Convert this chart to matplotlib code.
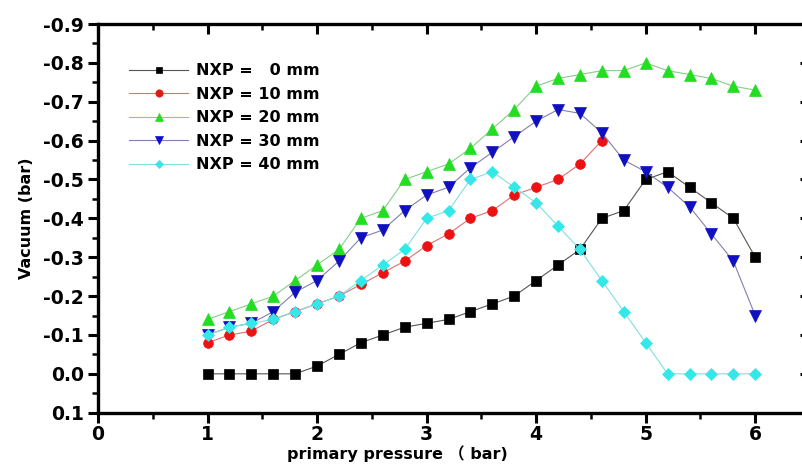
import matplotlib
matplotlib.use("Agg")
import matplotlib.pyplot as plt
from matplotlib.ticker import MultipleLocator

pressure = [1.0, 1.2, 1.4, 1.6, 1.8, 2.0, 2.2, 2.4, 2.6, 2.8, 3.0, 3.2, 3.4,
            3.6, 3.8, 4.0, 4.2, 4.4, 4.6, 4.8, 5.0, 5.2, 5.4, 5.6, 5.8, 6.0]

nxp0 = [0.00, 0.00, 0.00, 0.00, 0.00, -0.02, -0.05, -0.08, -0.10, -0.12, -0.13,
        -0.14, -0.16, -0.18, -0.20, -0.24, -0.28, -0.32, -0.40, -0.42, -0.50,
        -0.52, -0.48, -0.44, -0.40, -0.30]
pressure10 = pressure[:19]
nxp10 = [-0.08, -0.10, -0.11, -0.14, -0.16, -0.18, -0.20, -0.23, -0.26, -0.29,
         -0.33, -0.36, -0.40, -0.42, -0.46, -0.48, -0.50, -0.54, -0.60]
nxp20 = [-0.14, -0.16, -0.18, -0.20, -0.24, -0.28, -0.32, -0.40, -0.42, -0.50,
         -0.52, -0.54, -0.58, -0.63, -0.68, -0.74, -0.76, -0.77, -0.78, -0.78,
         -0.80, -0.78, -0.77, -0.76, -0.74, -0.73]
nxp30 = [-0.10, -0.12, -0.13, -0.16, -0.21, -0.24, -0.29, -0.35, -0.37, -0.42,
         -0.46, -0.48, -0.53, -0.57, -0.61, -0.65, -0.68, -0.67, -0.62, -0.55,
         -0.52, -0.48, -0.43, -0.36, -0.29, -0.15]
nxp40 = [-0.10, -0.12, -0.13, -0.14, -0.16, -0.18, -0.20, -0.24, -0.28, -0.32,
         -0.40, -0.42, -0.50, -0.52, -0.48, -0.44, -0.38, -0.32, -0.24, -0.16,
         -0.08, 0.00, 0.00, 0.00, 0.00, 0.00]

labels = ["NXP =   0 mm", "NXP = 10 mm", "NXP = 20 mm", "NXP = 30 mm", "NXP = 40 mm"]
xlabel = "primary pressure （ bar)"
ylabel = "Vacuum (bar)"
xticks = [0, 1, 2, 3, 4, 5, 6]
yticks = [-0.9, -0.8, -0.7, -0.6, -0.5, -0.4, -0.3, -0.2, -0.1, 0.0, 0.1]

WIDE = ['DejaVu Sans', 'Noto Sans CJK SC']
plt.rcParams['font.family'] = WIDE
plt.rcParams['font.weight'] = 'bold'

fig = plt.figure(figsize=(8.03, 4.66), dpi=100)
W, H = 803, 466
x0, x1 = 98, 810
ytop, ybot = 24, 412.7
ax = fig.add_axes([x0 / W, (H - ybot) / H, (x1 - x0) / W, (ybot - ytop) / H])

series = [
    (pressure, nxp0, 's', '#000000', '#555555', 6.5),
    (pressure10, nxp10, 'o', '#ee1111', '#e07070', 7),
    (pressure, nxp20, '^', '#22dd22', '#88cc88', 8),
    (pressure, nxp30, 'v', '#1010c0', '#8080b0', 8),
    (pressure, nxp40, 'D', '#33e8e8', '#80e0e0', 6),
]
for (xs, ys, m, c, lc, ms), lab in zip(series, labels):
    ax.plot(xs, ys, color=lc, lw=0.8, marker=m, markersize=ms,
            markerfacecolor=c, markeredgecolor=c, markeredgewidth=0.5, label=lab)

ax.set_xlim(0, 6.5)
ax.set_ylim(0.1, -0.9)

ax.xaxis.set_minor_locator(MultipleLocator(0.5))
ax.yaxis.set_minor_locator(MultipleLocator(0.05))
ax.set_xticks(xticks)
ax.set_xticklabels([str(v) for v in xticks])
ax.set_yticks(yticks)
ax.set_yticklabels([f"{v:.1f}" for v in yticks])

for s in ax.spines.values():
    s.set_linewidth(2.4)
    s.set_color('black')

ax.tick_params(axis='both', which='major', direction='out', length=7, width=2.2,
               labelsize=13.5, pad=2)
ax.tick_params(axis='y', which='major', pad=3)
ax.tick_params(axis='both', which='minor', direction='out', length=4, width=1.8)
ax.tick_params(top=True, right=True, which='both')
# top and right ticks point inward
for t in ax.xaxis.get_major_ticks() + ax.xaxis.get_minor_ticks():
    t.tick2line.set_marker(3)
for t in ax.yaxis.get_major_ticks() + ax.yaxis.get_minor_ticks():
    t.tick2line.set_marker(0)
for lab in ax.get_xticklabels() + ax.get_yticklabels():
    lab.set_fontweight('bold')

ax.set_xlabel(xlabel, fontsize=11.5, fontweight='bold')
ax.xaxis.set_label_coords((397 - x0) / (x1 - x0), -0.085)
ax.set_ylabel(ylabel, fontsize=11.5, fontweight='bold', labelpad=7)

leg = ax.legend(loc='upper left', bbox_to_anchor=(0.035, 0.915), frameon=False,
                fontsize=11.5, handlelength=3.7, labelspacing=0.53,
                handletextpad=0.45, borderaxespad=0, markerscale=0.75)
for t in leg.get_texts():
    t.set_fontweight('bold')

fig.savefig('out.png', dpi=100)
